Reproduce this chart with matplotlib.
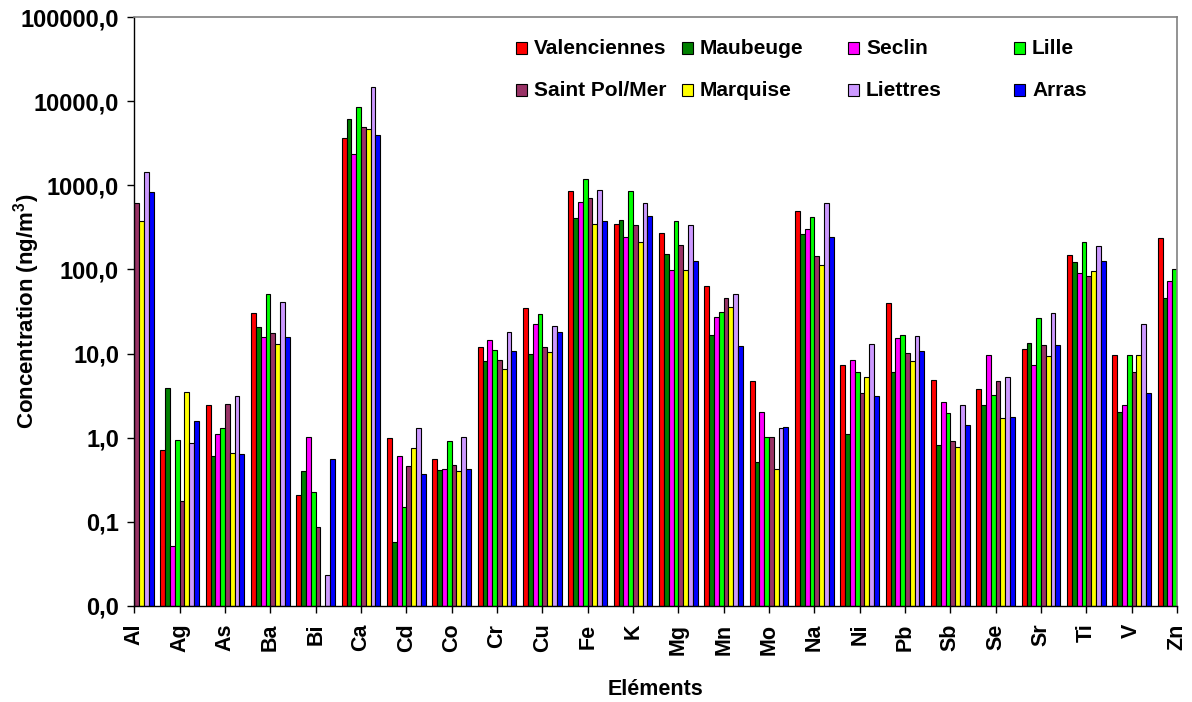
import numpy as np
import matplotlib
matplotlib.use("Agg")
import matplotlib.pyplot as plt
from matplotlib.patches import Rectangle
from matplotlib.ticker import FixedLocator, FuncFormatter

plt.rcParams['font.family'] = ['Liberation Sans', 'DejaVu Sans']
plt.rcParams['font.weight'] = 'bold'
plt.rcParams['mathtext.fontset'] = 'custom'
plt.rcParams['mathtext.rm'] = 'Liberation Sans:bold'
plt.rcParams['mathtext.bf'] = 'Liberation Sans:bold'

nan = np.nan

elements = ["Al", "Ag", "As", "Ba", "Bi", "Ca", "Cd", "Co", "Cr", "Cu", "Fe", "K",
            "Mg", "Mn", "Mo", "Na", "Ni", "Pb", "Sb", "Se", "Sr", "Ti", "V", "Zn"]

sites = ["Valenciennes", "Maubeuge", "Seclin", "Lille",
         "Saint Pol/Mer", "Marquise", "Liettres", "Arras"]

colors = ["#FF0000", "#008000", "#FF00FF", "#00FF00",
          "#993366", "#FFFF00", "#CC99FF", "#0000FF"]

# Mean concentrations (ng/m3) per element, one list per site
valenciennes = [nan, 0.70, 2.44, 30.3, 0.20, 3670, 0.97, 0.54, 11.8, 35.2, 851, 351,
                272, 63.1, 4.68, 493, 7.21, 39.4, 4.81, 3.77, 11.2, 150, 9.66, 234]
maubeuge = [nan, 3.91, 0.60, 20.4, 0.39, 6110, 0.048, 0.403, 8.08, 9.75, 408, 390,
            152, 16.7, 0.50, 262, 1.08, 5.97, 0.81, 2.44, 13.5, 122, 2.0, 45.4]
seclin = [nan, 0.0415, 1.08, 15.8, 1.0, 2380, 0.60, 0.415, 14.5, 22.6, 635, 243,
          97.5, 27.3, 2.02, 305, 8.4, 15.2, 2.61, 9.66, 7.21, 91.2, 2.42, 73.4]
lille = [nan, 0.93, 1.30, 50.8, 0.216, 8590, 0.139, 0.90, 11.1, 29.1, 1185, 851,
         378, 31.4, 1.0, 420, 5.97, 16.7, 1.95, 3.24, 26.2, 211, 9.66, 101]
saint_pol = [612, 0.168, 2.51, 17.5, 0.077, 4920, 0.447, 0.464, 8.4, 11.8, 706, 338,
             198, 45.4, 1.0, 146, 3.36, 10.0, 0.90, 4.68, 12.6, 84.5, 5.97, nan]
marquise = [382, 3.49, 0.646, 12.9, nan, 4740, 0.75, 0.388, 6.51, 10.4, 351, 213,
            97.5, 36.2, 0.415, 113, 5.29, 8.08, 0.765, 1.69, 9.4, 94.7, 9.66, nan]
liettres = [1430, 0.84, 3.15, 40.5, 0.0133, 14960, 1.30, 1.0, 18.2, 21.1, 885, 612,
            338, 50.8, 1.30, 612, 12.9, 16.2, 2.42, 5.29, 30.3, 188, 22.6, nan]
arras = [828, 1.57, 0.62, 15.8, 0.54, 3960, 0.363, 0.415, 10.8, 18.2, 372, 436,
         126, 12.2, 1.33, 245, 3.12, 10.8, 1.40, 1.74, 12.6, 126, 3.36, nan]

series = [valenciennes, maubeuge, seclin, lille, saint_pol, marquise, liettres, arras]

ytick_values = [0.01, 0.1, 1, 10, 100, 1000, 10000, 100000]

fig = plt.figure(figsize=(11.92, 7.02), dpi=100)
ax = fig.add_axes([0.1127, 0.1372, 0.8747, 0.8382])

x = np.arange(len(elements))
bar_w = 0.106
n = len(series)
for i, (vals, col, name) in enumerate(zip(series, colors, sites)):
    ax.bar(x + (i - (n - 1) / 2) * bar_w, np.array(vals, dtype=float), width=bar_w,
           bottom=0.01, color=col, edgecolor="black", linewidth=0.8, label=name)

ax.set_yscale("log")
ax.set_ylim(0.01, 100000)
ax.set_xlim(0, len(elements) - 1)

ax.yaxis.set_major_locator(FixedLocator(ytick_values))
ax.yaxis.set_minor_locator(FixedLocator([]))
ax.yaxis.set_major_formatter(FuncFormatter(lambda v, p: f"{v:.1f}".replace(".", ",")))
ax.tick_params(axis="y", which="major", direction="out", length=5, width=1,
               labelsize=17, pad=6)

ax.set_xticks(x)
ax.set_xticklabels(elements, rotation=90, fontsize=15.5, fontweight="bold")
ax.tick_params(axis="x", direction="out", length=5, width=1, pad=8)

for side in ("top", "right"):
    ax.spines[side].set_color("#808080")
    ax.spines[side].set_linewidth(1.2)
for side in ("left", "bottom"):
    ax.spines[side].set_color("black")
    ax.spines[side].set_linewidth(1.0)

ax.set_ylabel(r"Concentration (ng/m$^{\mathbf{3}}$)", fontsize=16, fontweight="bold")
ax.yaxis.set_label_coords(-0.089, 0.5)
ax.set_xlabel("Eléments", fontsize=15.5, fontweight="bold")
ax.xaxis.set_label_coords(0.5, -0.124)

# Legend laid out on an even 4 x 2 grid inside the plot area
W, H = fig.get_size_inches() * fig.dpi
col_x = [516, 682, 848, 1014]
row_y = [48, 90]
sq = 11
for i, (name, col) in enumerate(zip(sites, colors)):
    r, c = divmod(i, 4)
    px, py = col_x[c], row_y[r]
    fig.add_artist(Rectangle((px / W, 1 - (py + sq / 2) / H), sq / W, sq / H,
                             transform=fig.transFigure, facecolor=col,
                             edgecolor="black", linewidth=0.8))
    fig.text((px + sq + 7) / W, 1 - py / H, name, fontsize=15, fontweight="bold",
             va="center", ha="left")

fig.savefig("out.png", dpi=100)
